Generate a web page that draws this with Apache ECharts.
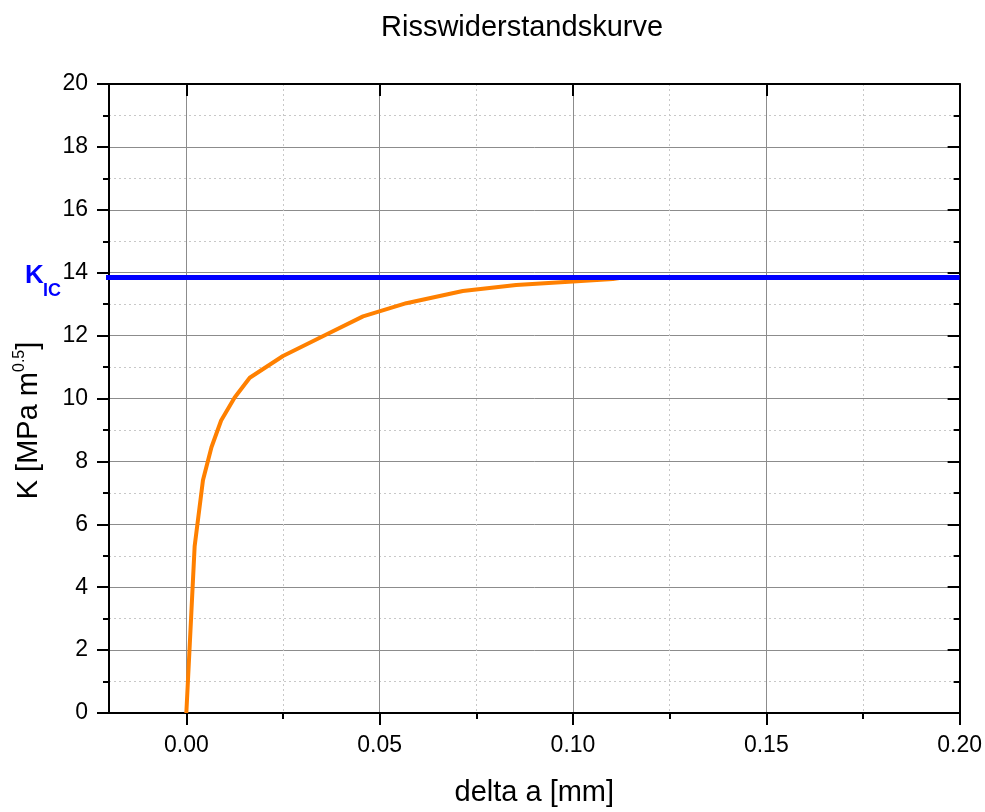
<!DOCTYPE html>
<html>
<head>
<meta charset="utf-8">
<script src="https://cdn.jsdelivr.net/npm/echarts@6/dist/echarts.min.js"></script>
<style>
html,body{margin:0;padding:0;background:#fff;}
#chart{width:985px;height:812px;}
</style>
</head>
<body>
<div id="chart"></div>
<script>
// ---- data ----
const deltaA = [0, 0.0013, 0.00215, 0.0043, 0.0065, 0.009, 0.0125, 0.0164, 0.025, 0.0353, 0.0457, 0.0569, 0.0715, 0.0853, 0.100, 0.1103, 0.112];
const kValues = [0, 3.19, 5.3, 7.4, 8.45, 9.3, 10.03, 10.66, 11.35, 11.98, 12.61, 13.03, 13.42, 13.61, 13.72, 13.80, 13.83];
const kicValue = 13.85;
const kicX = [-0.0233, 0.2];
const xMajorTicks = [0, 0.05, 0.10, 0.15, 0.20];
const xMinorTicks = [0.025, 0.075, 0.125, 0.175];
const xMin = -0.02, xMax = 0.2;
const yMin = 0, yMax = 20, yInterval = 2;

const FONT = '"Liberation Sans", Arial, sans-serif';
const chart = echarts.init(document.getElementById('chart'), null, {renderer: 'canvas'});

const curve = deltaA.map((x, i) => [x, kValues[i]]);
const kicLine = kicX.map(x => [x, kicValue]);

function xAx(pos, ticks, len, inside, extra) {
  return Object.assign({
    type: 'value', position: pos, min: xMin, max: xMax,
    axisLine: {show: true, onZero: false, lineStyle: {color: '#000', width: 2}},
    axisTick: {show: true, inside: inside, length: len, customValues: ticks, lineStyle: {color: '#000', width: 2}},
    axisLabel: {show: false},
    splitLine: {show: false}
  }, extra || {});
}

const option = {
  animation: false,
  backgroundColor: '#fff',
  title: {
    text: 'Risswiderstandskurve',
    left: 377, top: 9, padding: 4,
    textStyle: {fontFamily: FONT, fontSize: 29, fontWeight: 'normal', color: '#000'}
  },
  grid: {left: 109, right: 25, top: 84, bottom: 94, containLabel: false},
  xAxis: [
    xAx('bottom', xMajorTicks, 12, false, {
      axisLabel: {show: true, customValues: xMajorTicks, fontFamily: FONT, fontSize: 23, color: '#000', margin: 21,
        formatter: v => v.toFixed(2)},
      splitLine: {show: true, lineStyle: {color: '#8c8c8c', width: 1}},
      name: 'delta a [mm]', nameLocation: 'middle', nameGap: 65,
      nameTextStyle: {fontFamily: FONT, fontSize: 29, color: '#000'}
    }),
    xAx('bottom', xMinorTicks, 6, false, {
      axisLine: {show: false},
      splitLine: {show: true, lineStyle: {color: '#c8c8c8', width: 1, type: [2, 3]}}
    }),
    xAx('top', xMajorTicks, 12, true),
    xAx('top', xMinorTicks, 6, true, {axisLine: {show: false}})
  ],
  yAxis: [
    {
      type: 'value', position: 'left', min: yMin, max: yMax, interval: yInterval,
      axisLine: {show: true, onZero: false, lineStyle: {color: '#000', width: 2}},
      axisTick: {show: true, inside: false, length: 12, lineStyle: {color: '#000', width: 2}},
      minorTick: {show: true, splitNumber: 2, length: 6, lineStyle: {color: '#000', width: 2}},
      axisLabel: {fontFamily: FONT, fontSize: 23, color: '#000', margin: 21},
      splitLine: {show: true, lineStyle: {color: '#8c8c8c', width: 1}},
      minorSplitLine: {show: true, lineStyle: {color: '#c8c8c8', width: 1, type: [2, 3]}},
      name: '{a|K [MPa m}{s|0.5}{a|]}',
      nameLocation: 'middle', nameRotate: 90, nameGap: 63,
      nameTextStyle: {
        fontFamily: FONT, color: '#000', padding: [0, 44, 0, 0],
        rich: {
          a: {fontFamily: FONT, fontSize: 29, lineHeight: 34, color: '#000'},
          s: {fontFamily: FONT, fontSize: 16, verticalAlign: 'top', color: '#000'}
        }
      }
    },
    {
      type: 'value', position: 'right', min: yMin, max: yMax, interval: yInterval,
      axisLine: {show: true, onZero: false, lineStyle: {color: '#000', width: 2}},
      axisTick: {show: true, inside: true, length: 12, lineStyle: {color: '#000', width: 2}},
      minorTick: {show: true, splitNumber: 2, length: 6, lineStyle: {color: '#000', width: 2}},
      axisLabel: {show: false},
      splitLine: {show: false}
    }
  ],
  graphic: [
    {type: 'text', x: 25, y: 276, z: 100,
      style: {text: 'K', font: 'bold 26px ' + FONT, fill: '#0000ff', verticalAlign: 'middle'}},
    {type: 'text', x: 43, y: 291, z: 100,
      style: {text: 'IC', font: 'bold 18px ' + FONT, fill: '#0000ff', verticalAlign: 'middle'}}
  ],
  series: [
    {
      type: 'line', name: 'R-Kurve', xAxisIndex: 0, yAxisIndex: 0,
      data: curve, showSymbol: false, smooth: false,
      lineStyle: {color: '#ff8000', width: 4}, z: 3
    },
    {
      type: 'line', name: 'KIC', xAxisIndex: 0, yAxisIndex: 0,
      data: kicLine, showSymbol: false, clip: false,
      lineStyle: {color: '#0000ff', width: 5}, z: 4
    }
  ]
};
chart.setOption(option);
</script>
</body>
</html>
